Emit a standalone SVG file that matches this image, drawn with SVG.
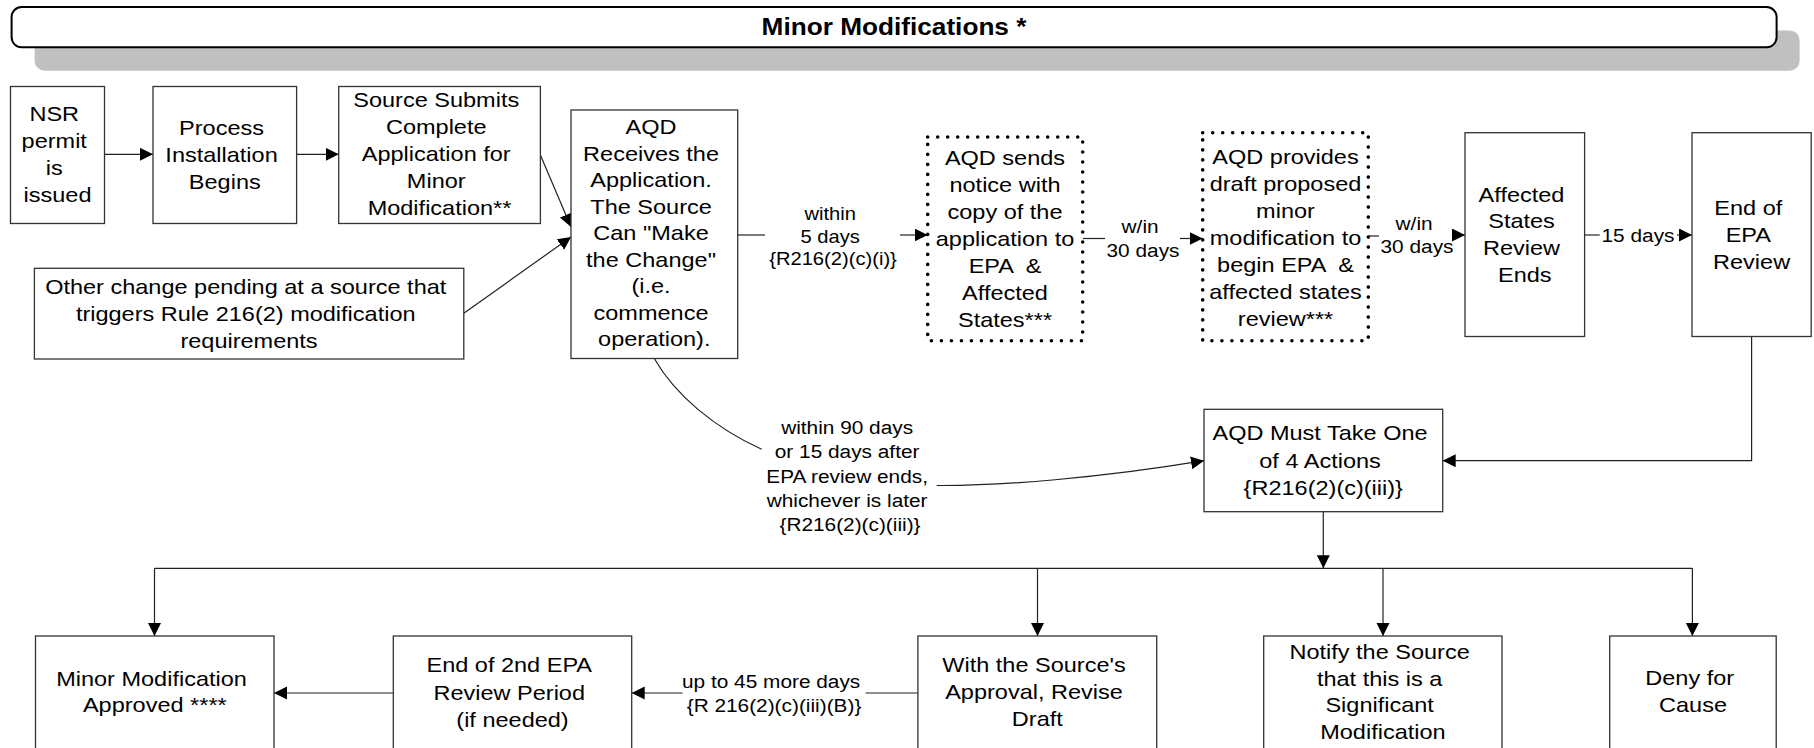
<svg xmlns="http://www.w3.org/2000/svg" width="1814" height="748" viewBox="0 0 1814 748">
  <style>
    .box { fill: #fff; stroke: #333; stroke-width: 1.3; }
    .dot { fill: #fff; stroke: #000; stroke-width: 3.6; stroke-dasharray: 0 10; stroke-linecap: round; }
    .t { font-family: "Liberation Sans", Arial, sans-serif; font-size: 21px; fill: #000; text-anchor: middle; }
    .lbl { font-family: "Liberation Sans", Arial, sans-serif; font-size: 18.6px; fill: #000; text-anchor: middle; }
    .title { font-family: "Liberation Sans", Arial, sans-serif; font-size: 23.4px; font-weight: bold; fill: #000; text-anchor: middle; }
    .ln { fill: none; stroke: #222; stroke-width: 1.2; }
    .arr { marker-end: url(#ah); }
  </style>
  <defs>
    <marker id="ah" markerUnits="userSpaceOnUse" markerWidth="14" markerHeight="14" refX="13" refY="6.5" orient="auto">
      <path d="M0,0 L13,6.5 L0,13 Z" fill="#000"/>
    </marker>
  </defs>

  <rect width="1814" height="748" fill="#fff"/>

  <!-- banner -->
  <g id="banner">
    <rect x="34.6" y="30.4" width="1765" height="40.3" rx="10" fill="#c0c0c0"/>
    <rect x="11.6" y="7" width="1765" height="40.3" rx="10" fill="#fff" stroke="#000" stroke-width="2"/>
    <text class="title" transform="translate(894 0) scale(1.12 1)"><tspan x="0" y="35">Minor Modifications *</tspan></text>
  </g>

  <!-- connectors -->
  <g id="connectors">
    <path class="ln arr" d="M104.5,154.3 H153"/>
    <path class="ln arr" d="M296.6,154.3 H338.7"/>
    <path class="ln arr" d="M540.4,155 L571,227"/>
    <path class="ln arr" d="M463.8,313.3 L571,237"/>

    <path class="ln" d="M737.7,235 H765"/>
    <path class="ln arr" d="M900,235 H927.7"/>
    <text class="lbl" style="font-size:18px" transform="translate(833 0) scale(1.12 1)">
      <tspan x="0" y="219.7">within</tspan>
      <tspan x="0" y="242.7">5 days</tspan>
      <tspan x="0" y="265.2">{R216(2)(c)(i)}</tspan>
    </text>

    <path class="ln" d="M1082.7,238.5 H1105"/>
    <path class="ln arr" d="M1180,238.5 H1202.7"/>
    <text class="lbl" transform="translate(1143 0) scale(1.12 1)">
      <tspan x="0" y="233.4">w/in</tspan>
      <tspan x="0" y="256.7">30 days</tspan>
    </text>

    <path class="ln" d="M1368.3,236 H1379"/>
    <path class="ln arr" d="M1452,235 H1465"/>
    <text class="lbl" transform="translate(1417 0) scale(1.12 1)">
      <tspan x="0" y="230">w/in</tspan>
      <tspan x="0" y="253.4">30 days</tspan>
    </text>

    <path class="ln" d="M1584.6,235 H1599.7"/>
    <path class="ln arr" d="M1677,235 H1692"/>
    <text class="lbl" transform="translate(1638 0) scale(1.12 1)"><tspan x="0" y="241.7">15 days</tspan></text>

    <path class="ln arr" d="M1751.6,336.5 V460.7 H1442.7"/>

    <path class="ln" d="M654.3,358.5 C675,395 715,428 761.7,449.3"/>
    <path class="ln arr" d="M936.7,485.5 C1000,486 1100,478 1204,460.7"/>
    <text class="lbl" transform="translate(850 0) scale(1.12 1)">
      <tspan x="0" y="434">within 90 days</tspan>
      <tspan x="0" y="458.4">or 15 days after</tspan>
      <tspan x="0" y="482.7">EPA review ends,</tspan>
      <tspan x="0" y="507">whichever is later</tspan>
      <tspan x="0" y="531.2">{R216(2)(c)(iii)}</tspan>
    </text>

    <path class="ln arr" d="M1323.3,511.7 V568.3"/>
    <path class="ln" d="M154.5,568.3 H1692.4"/>
    <path class="ln arr" d="M154.5,568.3 V636"/>
    <path class="ln arr" d="M1037.5,568.3 V636"/>
    <path class="ln arr" d="M1383,568.3 V636"/>
    <path class="ln arr" d="M1692.4,568.3 V636"/>

    <path class="ln" d="M917.9,693 H865.6"/>
    <path class="ln arr" d="M682.6,693 H631.7"/>
    <text class="lbl" transform="translate(774 0) scale(1.12 1)">
      <tspan x="0" y="687.7">up to 45 more days</tspan>
      <tspan x="0" y="712.4">{R 216(2)(c)(iii)(B)}</tspan>
    </text>

    <path class="ln arr" d="M393.3,693 H274"/>
  </g>

  <!-- row 1 -->
  <g id="nsr-permit">
    <rect class="box" x="10.5" y="86.5" width="94" height="137"/>
    <text class="t" transform="translate(57.5 0) scale(1.12 1)">
      <tspan x="0" y="121.5">NSR</tspan>
      <tspan x="0" y="148.5">permit</tspan>
      <tspan x="0" y="175.5">is</tspan>
      <tspan x="0" y="202.5">issued</tspan>
    </text>
  </g>

  <g id="process-installation">
    <rect class="box" x="153" y="86.5" width="143.6" height="137"/>
    <text class="t" transform="translate(224.8 0) scale(1.12 1)">
      <tspan x="0" y="135">Process</tspan>
      <tspan x="0" y="162">Installation</tspan>
      <tspan x="0" y="189">Begins</tspan>
    </text>
  </g>

  <g id="source-submits">
    <rect class="box" x="338.7" y="86.5" width="201.7" height="137"/>
    <text class="t" transform="translate(439.5 0) scale(1.12 1)">
      <tspan x="0" y="107.5">Source Submits</tspan>
      <tspan x="0" y="134.5">Complete</tspan>
      <tspan x="0" y="161.5">Application for</tspan>
      <tspan x="0" y="188.5">Minor</tspan>
      <tspan x="0" y="215.5">Modification**</tspan>
    </text>
  </g>

  <g id="other-change">
    <rect class="box" x="34.4" y="268.3" width="429.4" height="90.7"/>
    <text class="t" transform="translate(249 0) scale(1.12 1)">
      <tspan x="0" y="294.2">Other change pending at a source that</tspan>
      <tspan x="0" y="321.2">triggers Rule 216(2) modification</tspan>
      <tspan x="0" y="348.2">requirements</tspan>
    </text>
  </g>

  <g id="aqd-receives">
    <rect class="box" x="571" y="110" width="166.7" height="248.5"/>
    <text class="t" transform="translate(654.3 0) scale(1.12 1)">
      <tspan x="0" y="134.5">AQD</tspan>
      <tspan x="0" y="161">Receives the</tspan>
      <tspan x="0" y="187.5">Application.</tspan>
      <tspan x="0" y="214">The Source</tspan>
      <tspan x="0" y="240.5">Can "Make</tspan>
      <tspan x="0" y="267">the Change"</tspan>
      <tspan x="0" y="293.5">(i.e.</tspan>
      <tspan x="0" y="320">commence</tspan>
      <tspan x="0" y="346.5">operation).</tspan>
    </text>
  </g>

  <g id="aqd-sends-notice">
    <rect class="dot" x="927.7" y="137" width="155" height="203.7"/>
    <text class="t" xml:space="preserve" transform="translate(1005 0) scale(1.12 1)"><tspan x="0" y="165.1">AQD sends</tspan><tspan x="0" y="192.1">notice with</tspan><tspan x="0" y="219.1">copy of the</tspan><tspan x="0" y="246.1">application to</tspan><tspan x="0" y="273.1">EPA  &amp;</tspan><tspan x="0" y="300.1">Affected</tspan><tspan x="0" y="327.1">States***</tspan></text>
  </g>

  <g id="aqd-provides-draft">
    <rect class="dot" x="1202.7" y="132.7" width="165.6" height="208"/>
    <text class="t" xml:space="preserve" transform="translate(1285.5 0) scale(1.12 1)"><tspan x="0" y="164.2">AQD provides</tspan><tspan x="0" y="191.1">draft proposed</tspan><tspan x="0" y="218">minor</tspan><tspan x="0" y="244.9">modification to</tspan><tspan x="0" y="271.8">begin EPA  &amp;</tspan><tspan x="0" y="298.7">affected states</tspan><tspan x="0" y="325.6">review***</tspan></text>
  </g>

  <g id="affected-states-review-ends">
    <rect class="box" x="1465" y="132.7" width="119.6" height="203.8"/>
    <text class="t" transform="translate(1524.8 0) scale(1.12 1)">
      <tspan x="0" y="201.8">Affected</tspan>
      <tspan x="0" y="228.5">States</tspan>
      <tspan x="0" y="255.2">Review</tspan>
      <tspan x="0" y="281.8">Ends</tspan>
    </text>
  </g>

  <g id="end-of-epa-review">
    <rect class="box" x="1692" y="132.7" width="119.2" height="203.8"/>
    <text class="t" transform="translate(1751.6 0) scale(1.12 1)">
      <tspan x="0" y="214.8">End of</tspan>
      <tspan x="0" y="241.8">EPA</tspan>
      <tspan x="0" y="268.8">Review</tspan>
    </text>
  </g>

  <!-- decision -->
  <g id="aqd-must-act">
    <rect class="box" x="1204" y="409.3" width="238.7" height="102.4"/>
    <text class="t" transform="translate(1323.3 0) scale(1.12 1)">
      <tspan x="0" y="440.5">AQD Must Take One</tspan>
      <tspan x="0" y="468">of 4 Actions</tspan>
      <tspan x="0" y="495.5">{R216(2)(c)(iii)}</tspan>
    </text>
  </g>

  <!-- outcomes -->
  <g id="minor-modification-approved">
    <rect class="box" x="35.5" y="636" width="238.5" height="140"/>
    <text class="t" transform="translate(154.8 0) scale(1.12 1)">
      <tspan x="0" y="685.8">Minor Modification</tspan>
      <tspan x="0" y="712.5">Approved ****</tspan>
    </text>
  </g>

  <g id="end-of-2nd-epa-review">
    <rect class="box" x="393.3" y="636" width="238.4" height="140"/>
    <text class="t" transform="translate(512.5 0) scale(1.12 1)">
      <tspan x="0" y="672.5">End of 2nd EPA</tspan>
      <tspan x="0" y="699.8">Review Period</tspan>
      <tspan x="0" y="727.1">(if needed)</tspan>
    </text>
  </g>

  <g id="revise-draft">
    <rect class="box" x="917.9" y="636" width="238.8" height="140"/>
    <text class="t" transform="translate(1037.3 0) scale(1.12 1)">
      <tspan x="0" y="671.8">With the Source's</tspan>
      <tspan x="0" y="699.1">Approval, Revise</tspan>
      <tspan x="0" y="726.5">Draft</tspan>
    </text>
  </g>

  <g id="notify-significant">
    <rect class="box" x="1263.7" y="636" width="238.3" height="140"/>
    <text class="t" transform="translate(1382.9 0) scale(1.12 1)">
      <tspan x="0" y="659.2">Notify the Source</tspan>
      <tspan x="0" y="685.8">that this is a</tspan>
      <tspan x="0" y="712.5">Significant</tspan>
      <tspan x="0" y="739.2">Modification</tspan>
    </text>
  </g>

  <g id="deny-for-cause">
    <rect class="box" x="1609.7" y="636" width="166.5" height="140"/>
    <text class="t" transform="translate(1693 0) scale(1.12 1)">
      <tspan x="0" y="685.5">Deny for</tspan>
      <tspan x="0" y="712.5">Cause</tspan>
    </text>
  </g>
</svg>
